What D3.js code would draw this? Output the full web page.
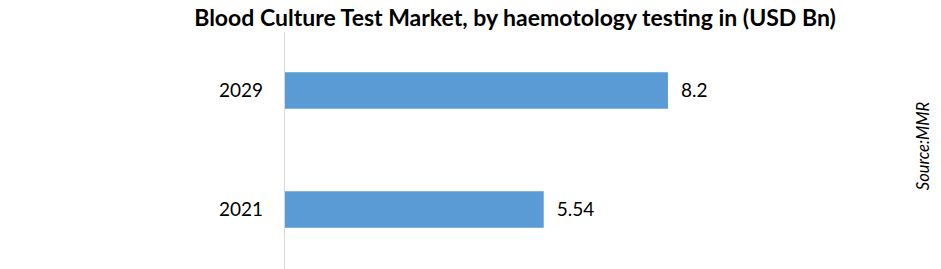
<!DOCTYPE html>
<html>
<head>
<meta charset="utf-8">
<script src="https://cdn.jsdelivr.net/npm/d3@7"></script>
<style>
  body { margin: 0; background: #fff; }
  svg text { font-family: Lato, "Open Sans", sans-serif; fill: #000; }
</style>
</head>
<body>
<svg id="chart" width="941" height="269"></svg>
<script>
// chart data
const years = ['2029', '2021'];
const values = [8.2, 5.54];
const valueLabels = ['8.2', '5.54'];
const title = 'Blood Culture Test Market, by haemotology testing in (USD Bn)';
const source = 'Source:MMR';

const svg = d3.select('#chart');
const width = 941;
const height = 269;

const x = d3.scaleLinear()
    .domain([0, 10])
    .range([285, 752]);
const y = d3.scaleBand()
    .domain(years)
    .range([31, 269])
    .paddingInner(0.693)
    .paddingOuter(0.3465);

// title
svg.append('text')
    .attr('x', 515)
    .attr('y', 26)
    .attr('text-anchor', 'middle')
    .style('font-weight', 'bold')
    .style('font-size', '23px')
    .text(title);

// vertical axis line
svg.append('line')
    .attr('x1', x(0) - 0.5).attr('x2', x(0) - 0.5)
    .attr('y1', 32).attr('y2', height)
    .attr('stroke', '#d9d9d9')
    .attr('stroke-width', 1);

const rows = svg.selectAll('g.row')
    .data(years.map((yr, i) => ({ year: yr, value: values[i], label: valueLabels[i] })))
    .enter()
    .append('g')
    .attr('class', 'row');

rows.append('rect')
    .attr('x', x(0))
    .attr('y', d => y(d.year))
    .attr('width', d => x(d.value) - x(0))
    .attr('height', y.bandwidth())
    .attr('fill', '#5b9bd5');

rows.append('text')
    .attr('x', x(0) - 22)
    .attr('y', d => y(d.year) + y.bandwidth() / 2)
    .attr('dy', '0.35em')
    .attr('text-anchor', 'end')
    .style('font-size', '19px')
    .text(d => d.year);

rows.append('text')
    .attr('x', d => x(d.value) + 13)
    .attr('y', d => y(d.year) + y.bandwidth() / 2)
    .attr('dy', '0.35em')
    .style('font-size', '19px')
    .text(d => d.label);

// source note
svg.append('text')
    .attr('transform', 'translate(929, 146) rotate(-90)')
    .attr('text-anchor', 'middle')
    .style('font-style', 'italic')
    .style('font-size', '16.5px')
    .text(source);
</script>
</body>
</html>
